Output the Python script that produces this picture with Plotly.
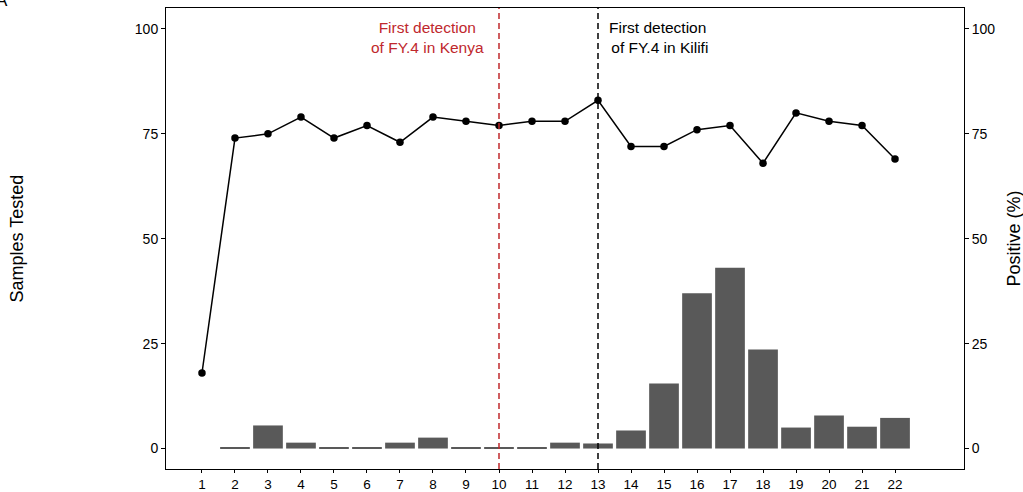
import plotly.graph_objects as go

weeks = list(range(1, 23))
samples_tested = [None, 0.25, 5.5, 1.4, 0.25, 0.25, 1.4, 2.6, 0.25, 0.25, 0.25, 1.4, 1.2,
                  4.3, 15.5, 37, 43.1, 23.6, 5.0, 7.9, 5.2, 7.3]
positive_pct = [18, 74, 75, 79, 74, 77, 73, 79, 78, 77, 78, 78, 83,
                72, 72, 76, 77, 68, 80, 78, 77, 69]
tick_vals = [0, 25, 50, 75, 100]
kenya_week = 10
kilifi_week = 13

FONT = "Liberation Sans, Arial, Helvetica, sans-serif"
RED = "#c0282d"
YR = [-4.88, 105]

fig = go.Figure()
fig.add_trace(go.Bar(x=weeks, y=samples_tested, marker=dict(color="#595959", line=dict(width=0)),
                     width=0.9, showlegend=False))
fig.add_trace(go.Scatter(x=weeks, y=positive_pct, mode="lines+markers", yaxis="y2",
                         line=dict(color="black", width=1.5),
                         marker=dict(color="black", size=7.5), showlegend=False))

fig.add_shape(type="line", xref="x", yref="paper", x0=kenya_week, x1=kenya_week, y0=0, y1=1,
              line=dict(color=RED, width=1.5, dash="6px,4px"))
fig.add_shape(type="line", xref="x", yref="paper", x0=kilifi_week, x1=kilifi_week, y0=0, y1=1,
              line=dict(color="black", width=1.5, dash="6px,4px"))

fig.add_annotation(x=7.82, y=98, xref="x", yref="y", text="First detection<br>of FY.4 in Kenya",
                   showarrow=False, font=dict(family=FONT, size=15.5, color=RED), align="center")
fig.add_annotation(x=14.79, y=98, xref="x", yref="y", text="First detection<br>\u00a0of FY.4 in Kilifi",
                   showarrow=False, font=dict(family=FONT, size=15.5, color="black"), align="center")

fig.add_annotation(x=0, y=0.5, xref="paper", yref="paper", xshift=-150, text="Samples Tested",
                   textangle=-90, showarrow=False, font=dict(family=FONT, size=18, color="black"),
                   xanchor="center", yanchor="middle")
fig.add_annotation(x=1, y=0.5, xref="paper", yref="paper", xshift=49, text="Positive (%)",
                   textangle=-90, showarrow=False, font=dict(family=FONT, size=18, color="black"),
                   xanchor="center", yanchor="middle")
fig.add_annotation(x=0, y=1, xref="paper", yref="paper", xshift=-164, yshift=8, text="A",
                   showarrow=False, font=dict(family=FONT, size=17, color="black"),
                   xanchor="center", yanchor="middle")

axis_common = dict(showgrid=False, zeroline=False, showline=True, linecolor="black", linewidth=1,
                   ticks="outside", tickwidth=1, tickcolor="black", automargin=False)

fig.update_layout(
    width=1023, height=492,
    margin=dict(l=166, r=59, t=8, b=23),
    paper_bgcolor="white", plot_bgcolor="white",
    bargap=0.1,
    xaxis=dict(range=[-0.09, 24.09], tickvals=weeks, mirror=True, ticklen=3,
               tickfont=dict(family=FONT, size=13.5, color="black"), **axis_common),
    yaxis=dict(range=YR, tickvals=tick_vals, ticklen=4,
               tickfont=dict(family=FONT, size=14, color="black"), **axis_common),
    yaxis2=dict(range=YR, tickvals=tick_vals, overlaying="y", side="right", ticklen=4,
                tickfont=dict(family=FONT, size=14, color="black"), **axis_common),
)

fig.write_html("out.html", config={"displayModeBar": False},
               post_script="document.body.style.margin='0';document.body.style.overflow='hidden';")
